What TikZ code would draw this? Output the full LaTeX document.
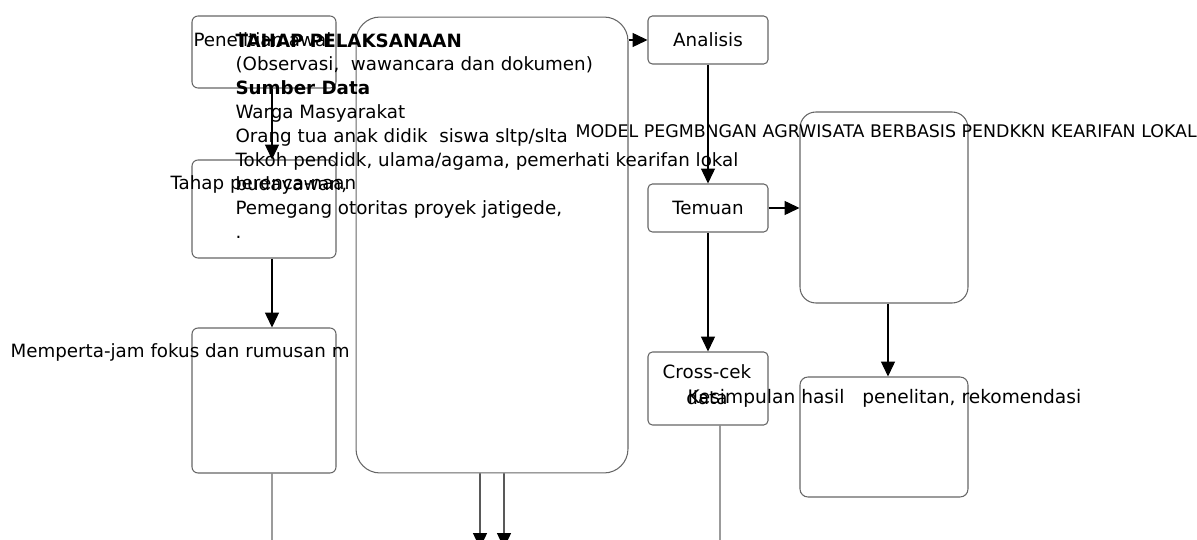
\documentclass[tikz,border=0pt]{standalone}
\usepackage{fontspec}
\setmainfont{DejaVu Sans}
\usetikzlibrary{arrows.meta}

\begin{document}
\begin{tikzpicture}[x=0.02cm, y=-0.02cm, line width=0.6pt,
	kotak/.style={draw=black!60, rounded corners=3.4pt, inner sep=0pt, minimum width=2.88cm},
	kecil/.style={kotak, minimum width=2.4cm, minimum height=0.96cm, rounded corners=2.5pt, font=\fontsize{10.4}{13.6}\selectfont},
	teks/.style={inner sep=0pt, font=\fontsize{10.4}{13.6}\selectfont},
	panah/.style={-{Triangle[length=8.5pt,width=8pt]}, black},
	garis/.style={draw=black!60}]
			%%%%% START %%%%%
			
			\useasboundingbox (0, 0) rectangle (1197, 540);
			
			\node[kotak, minimum height=1.44cm] (awal) at (264, 52) {};
			\node[kotak, minimum height=1.96cm] (rencana) at (264, 209) {};
			\node[kotak, minimum height=2.9cm] (pertajam) at (264, 400.5) {};
			\node[kotak, minimum width=5.44cm, minimum height=9.12cm, rounded corners=13.6pt] (laksana) at (492, 245) {};
			
			\node[kecil] (analisis) at (708, 40) {Analisis};
			\node[kecil] (temuan) at (708, 208) {Temuan};
			\node[kecil, minimum height=1.46cm] (cek) at (708, 388.5) {};
			
			\node[kotak, minimum width=3.36cm, minimum height=3.82cm, rounded corners=9pt] (model) at (884, 207.5) {};
			\node[kotak, minimum width=3.36cm, minimum height=2.4cm, rounded corners=4.5pt] (simpul) at (884, 437) {};
			
			\node[teks, anchor=west] (tawal) at (193, 40) {Penelitian awal};
			\node[teks, anchor=west] (trencana) at (170, 184) {Tahap perenca-naan};
			\node[teks, anchor=west] (tpertajam) at (10, 352) {Memperta-jam fokus dan rumusan m};
			\node[teks, anchor=north west, align=left] (tlaksana) at (235, 33) {\textbf{TAHAP PELAKSANAAN}\\(Observasi,\ \ wawancara dan dokumen)\\\textbf{Sumber Data}\\Warga Masyarakat\\Orang tua anak didik\ \ siswa sltp/slta\\Tokoh pendidk, ulama/agama, pemerhati kearifan lokal\\budayawan,\\Pemegang otoritas proyek jatigede,\\.};
			\node[teks, anchor=west, font=\fontsize{9.9}{12}\selectfont] (tmodel) at (575, 131) {MODEL PEGMBNGAN AGRWISATA BERBASIS PENDKKN KEARIFAN LOKAL};
			\node[teks, align=center, font=\fontsize{10.4}{14.6}\selectfont] (tcek) at (707, 385) {Cross-cek\\data};
			\node[teks, anchor=west, font=\fontsize{10.6}{13.6}\selectfont] (tsimpul) at (687, 398) {Kesimpulan hasil\ \ \ penelitan, rekomendasi};
			
			\coordinate (ujung1) at (272, 545);
			\coordinate (ujung2) at (480, 548);
			\coordinate (ujung3) at (504, 548);
			\coordinate (ujung4) at (720, 545);
			
			\draw[panah] ([xshift=0.16cm]awal.south) -- ([xshift=0.16cm]rencana.north);
			\draw[panah] ([xshift=0.16cm]rencana.south) -- ([xshift=0.16cm]pertajam.north);
			\draw[garis] ([xshift=0.16cm]pertajam.south) -- (ujung1);
			\draw[panah] ([xshift=-0.24cm]laksana.south) -- (ujung2);
			\draw[panah] ([xshift=0.24cm]laksana.south) -- (ujung3);
			\draw[panah] (laksana.east |- analisis.west) -- (analisis.west);
			\draw[panah] (analisis.south) -- (temuan.north);
			\draw[panah] (temuan.east) -- (temuan.east -| model.west);
			\draw[panah] (temuan.south) -- (cek.north);
			\draw[garis] ([xshift=0.24cm]cek.south) -- (ujung4);
			\draw[panah] ([xshift=0.08cm]model.south) -- ([xshift=0.08cm]simpul.north);
			
			%%%%% END %%%%%
		\end{tikzpicture}
\end{document}
